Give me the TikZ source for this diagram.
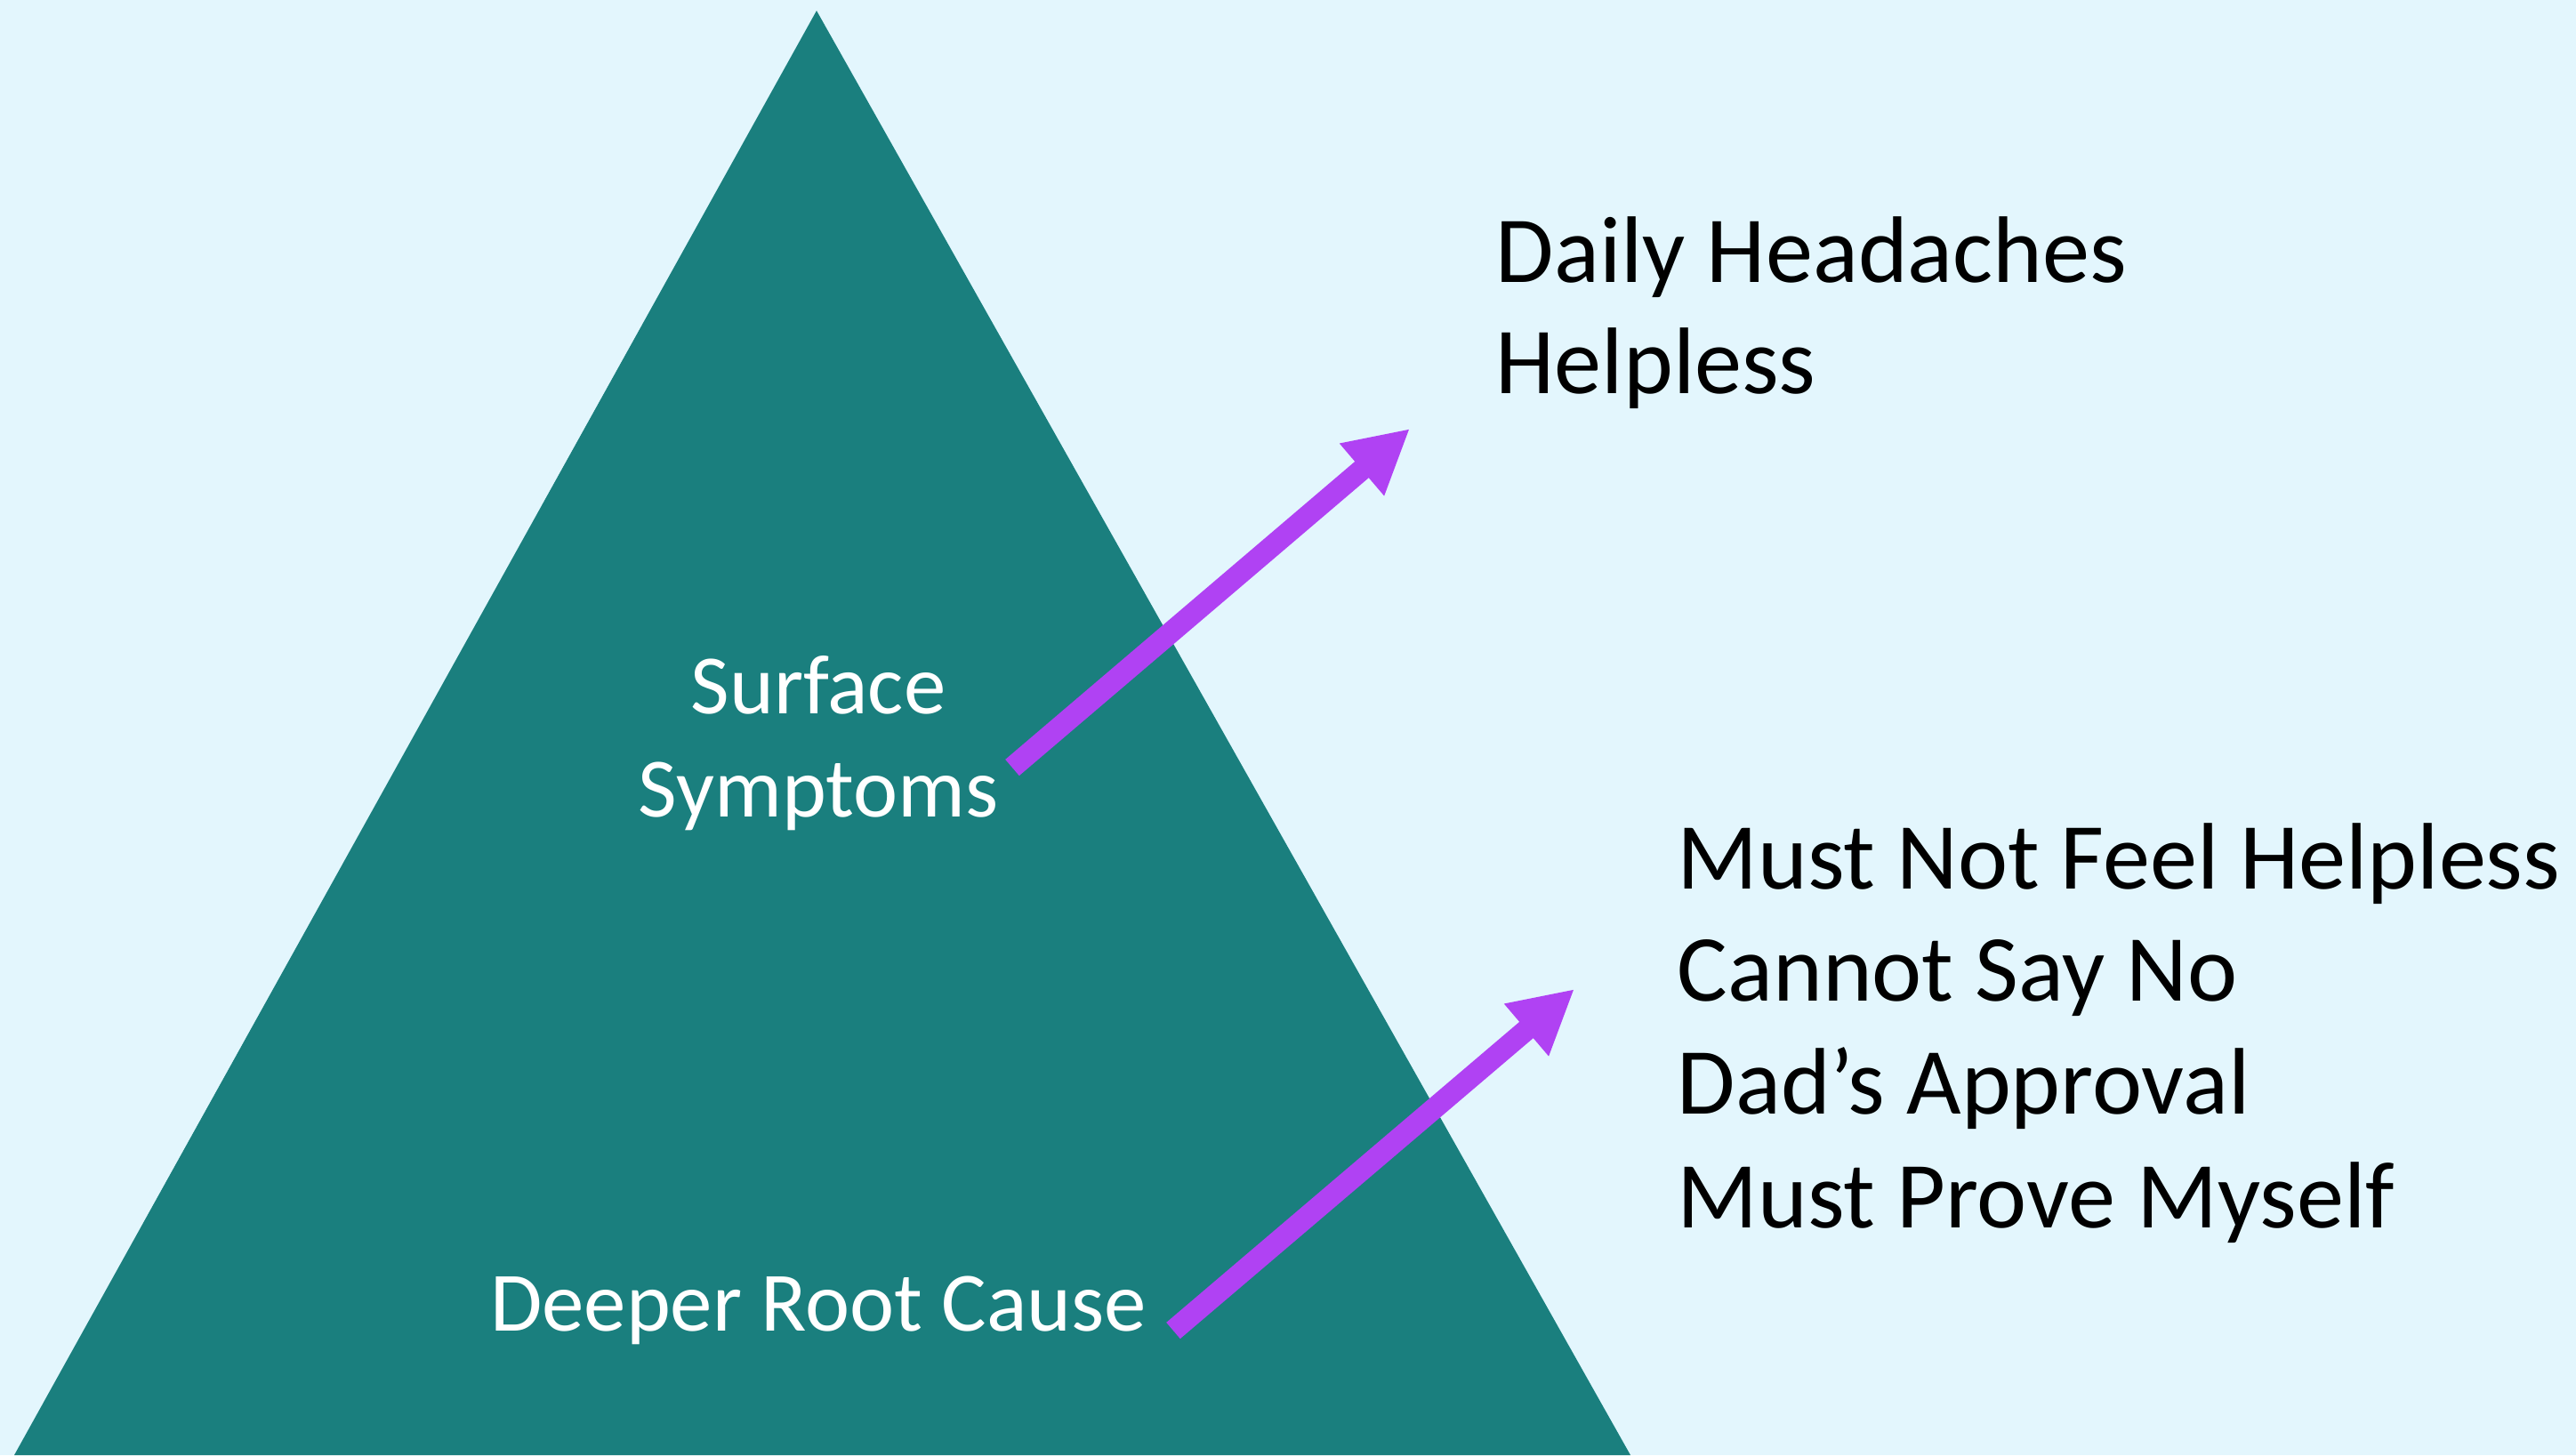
\documentclass[tikz,border=0pt]{standalone}
\usepackage{fontspec}
\setmainfont{Carlito}
\usepackage{xcolor}
\usetikzlibrary{arrows.meta}
\definecolor{skybg}{HTML}{E3F6FD}
\definecolor{pyramidteal}{HTML}{1A7F7E}
\definecolor{arrowpurple}{HTML}{B042F3}

\begin{document}
\begin{tikzpicture}[
		blacktext/.style={anchor=base west, inner sep=0pt, font=\fontsize{30.25}{36}\selectfont},
		whitetext/.style={anchor=base, inner sep=0pt, text=white, font=\fontsize{27}{32}\selectfont},
		pointer/.style={-{Triangle[length=7.1mm, width=7.2mm]}, line width=2.4mm, arrowpurple}
	]
				% Background
				\fill[skybg] (0,0) rectangle (28.96,16.36);
				\useasboundingbox (0,0) rectangle (28.96,16.36);
				
				% Pyramid
				\fill[pyramidteal] (0.16,0) -- (9.18,16.24) -- (18.33,0) -- cycle;
				
				% Labels inside the pyramid
				\node[whitetext] (surface) at (9.20,8.33) {Surface};
				\node[whitetext] (symptoms) at (9.20,7.18) {Symptoms};
				\node[whitetext] (root) at (9.20,1.40) {Deeper Root Cause};
				
				% Surface list
				\node[blacktext] (headaches) at (16.81,13.18) {Daily Headaches};
				\node[blacktext] (helpless) at (16.81,11.93) {Helpless};
				
				% Root list
				\node[blacktext] (notfeel) at (18.85,6.37) {Must Not Feel Helpless};
				\node[blacktext] (sayno) at (18.85,5.11) {Cannot Say No};
				\node[blacktext] (approval) at (18.85,3.84) {Dad’s Approval};
				\node[blacktext] (prove) at (18.85,2.56) {Must Prove Myself};
				
				% Arrows
				\coordinate (top tail) at (11.38,7.73);
				\coordinate (top tip) at (15.85,11.54);
				\coordinate (low tail) at (13.19,1.40);
				\coordinate (low tip) at (17.70,5.24);
				\draw[pointer] (top tail) -- (top tip);
				\draw[pointer] (low tail) -- (low tip);
				
\end{tikzpicture}
\end{document}
